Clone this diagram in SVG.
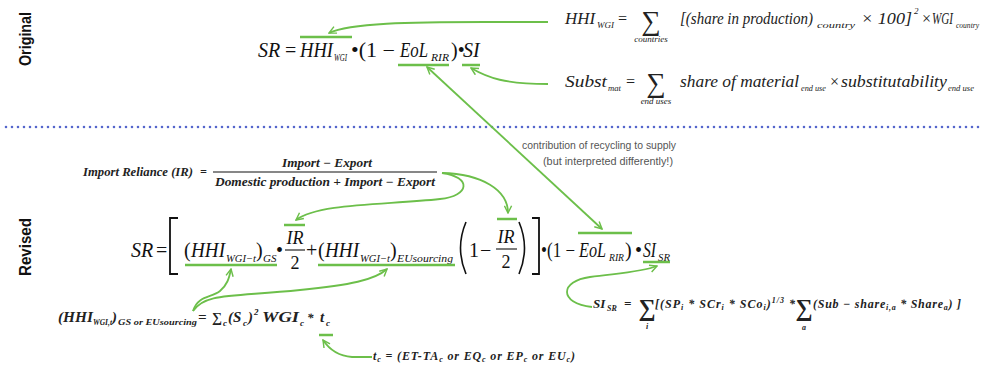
<svg xmlns="http://www.w3.org/2000/svg" width="982" height="367" viewBox="0 0 982 367">
<style>
.m{font-family:"Liberation Serif",serif;font-style:italic;font-size:20px;fill:#111}
.n{font-style:normal}
.s{font-size:11px}
.r{font-family:"Liberation Serif",serif;font-style:italic;font-size:16px;fill:#222}
.rs{font-size:9px}
.sig{font-size:27px;font-style:normal}
.bi{font-family:"Liberation Serif",serif;font-style:italic;font-weight:bold;fill:#222}
.lab{font-family:"Liberation Sans",Arial,sans-serif;font-weight:bold;font-size:17px;fill:#111}
.note{font-family:"Liberation Sans",Arial,sans-serif;font-size:10px;fill:#555}
.hl{stroke:#6cbf4a;stroke-width:2.5;fill:none}
.con{stroke:#6cbf4a;stroke-width:1.8;fill:none}
.blk{stroke:#111;fill:none}
</style>
<defs>
<marker id="ah" viewBox="0 0 10 10" refX="9" refY="5" markerWidth="9" markerHeight="9" markerUnits="userSpaceOnUse" orient="auto-start-reverse">
<path d="M1,1 L9,5 L1,9" fill="none" stroke="#6cbf4a" stroke-width="1.6"/>
</marker>
</defs>
<rect width="982" height="367" fill="#fff"/>

<g id="divider">
<line x1="6" y1="127" x2="980" y2="127" stroke="#5566cc" stroke-width="2.6" stroke-linecap="round" stroke-dasharray="0 6"/>
</g>

<g id="original-label"><text class="lab" transform="translate(31,39) rotate(-90)" text-anchor="middle" textLength="54" lengthAdjust="spacingAndGlyphs">Original</text></g>
<g id="revised-label"><text class="lab" transform="translate(31,247) rotate(-90)" text-anchor="middle" textLength="58" lengthAdjust="spacingAndGlyphs">Revised</text></g>

<g id="sr-original">
<text class="m" x="258" y="57">SR</text>
<text class="m n" x="285" y="57">=</text>
<text class="m" x="300" y="57" textLength="33" lengthAdjust="spacingAndGlyphs">HHI</text>
<text class="m s" x="334" y="61" textLength="13" lengthAdjust="spacingAndGlyphs">WGI</text>
<text class="m n" x="351" y="57" textLength="44" lengthAdjust="spacingAndGlyphs">•(1 − </text>
<text class="m" x="400" y="57" textLength="28" lengthAdjust="spacingAndGlyphs">EoL</text>
<text class="m s" x="431" y="61" textLength="18" lengthAdjust="spacingAndGlyphs">RIR</text>
<text class="m n" x="451" y="57">)•</text>
<text class="m" x="463" y="57">SI</text>
<line class="hl" x1="300" y1="37" x2="352" y2="37"/>
<line class="hl" x1="398" y1="65" x2="449" y2="65"/>
<line class="hl" x1="462" y1="65" x2="480" y2="65"/>
</g>

<g id="hhi-formula">
<text class="r" x="565" y="24" textLength="30" lengthAdjust="spacingAndGlyphs">HHI</text>
<text class="r rs" x="597" y="28">WGI</text>
<text class="r n" x="617" y="24">=</text>
<text class="r sig" x="651" y="30" text-anchor="middle">∑</text>
<text class="r rs" x="651" y="42" text-anchor="middle">countries</text>
<text class="r" x="680" y="24" textLength="133" lengthAdjust="spacingAndGlyphs">[(share in production)</text>
<text class="r rs" x="817" y="28" textLength="38" lengthAdjust="spacingAndGlyphs">country</text>
<text class="r n" x="861" y="24" textLength="51" lengthAdjust="spacingAndGlyphs">× 100]</text>
<text class="r rs n" x="914" y="14">2</text>
<text class="r n" x="921" y="24">×</text>
<text class="r" x="932" y="24" textLength="21" lengthAdjust="spacingAndGlyphs">WGI</text>
<text class="r rs" x="956" y="28" textLength="23" lengthAdjust="spacingAndGlyphs">country</text>
</g>

<g id="subst-formula">
<text class="r" x="565" y="87" textLength="42" lengthAdjust="spacingAndGlyphs">Subst</text>
<text class="r rs" x="608" y="91" textLength="13" lengthAdjust="spacingAndGlyphs">mat</text>
<text class="r n" x="625" y="87">=</text>
<text class="r sig" x="656" y="92" text-anchor="middle">∑</text>
<text class="r rs" x="656" y="104" text-anchor="middle">end uses</text>
<text class="r" x="680" y="87" textLength="119" lengthAdjust="spacingAndGlyphs">share of material</text>
<text class="r rs" x="801" y="91" textLength="25" lengthAdjust="spacingAndGlyphs">end use</text>
<text class="r n" x="829" y="87">×</text>
<text class="r" x="841" y="87" textLength="106" lengthAdjust="spacingAndGlyphs">substitutability</text>
<text class="r rs" x="948" y="91" textLength="26" lengthAdjust="spacingAndGlyphs">end use</text>
</g>

<g id="recycling-note">
<text class="note" x="522" y="149" textLength="154" lengthAdjust="spacingAndGlyphs">contribution of recycling to supply</text>
<text class="note" x="543" y="165" textLength="130" lengthAdjust="spacingAndGlyphs">(but interpreted differently!)</text>
</g>

<g id="ir-formula">
<text class="bi" x="83" y="176" font-size="12" textLength="110" lengthAdjust="spacingAndGlyphs">Import Reliance (IR)</text>
<text class="bi" x="200" y="176" font-size="12" font-style="normal">=</text>
<text class="bi" x="327" y="167" font-size="12" text-anchor="middle" textLength="90" lengthAdjust="spacingAndGlyphs">Import − Export</text>
<line class="blk" x1="213" y1="172" x2="437" y2="172" stroke-width="1.1"/>
<text class="bi" x="215" y="186" font-size="12" textLength="220" lengthAdjust="spacingAndGlyphs">Domestic production + Import − Export</text>
</g>

<g id="sr-revised">
<text class="m" x="131" y="257">SR</text>
<text class="m n" x="156" y="257">=</text>
<path class="blk" stroke-width="1.8" d="M178,218 L170,218 L170,274 L178,274"/>
<text class="m n" x="184" y="257">(</text>
<text class="m" x="191" y="257" textLength="34" lengthAdjust="spacingAndGlyphs">HHI</text>
<text class="m s" x="226" y="262" textLength="30" lengthAdjust="spacingAndGlyphs">WGI−t</text>
<text class="m n" x="256" y="257">)</text>
<text class="m s" x="263" y="262">GS</text>
<text class="m n" x="276" y="257">•</text>
<text class="m" x="295" y="244" text-anchor="middle" style="font-size:18px">IR</text>
<line class="blk" x1="285" y1="250" x2="305" y2="250" stroke-width="1.1"/>
<text class="m n" x="295" y="269" text-anchor="middle" style="font-size:18px">2</text>
<text class="m n" x="306" y="257">+</text>
<text class="m n" x="318" y="257">(</text>
<text class="m" x="325" y="257" textLength="34" lengthAdjust="spacingAndGlyphs">HHI</text>
<text class="m s" x="360" y="262" textLength="30" lengthAdjust="spacingAndGlyphs">WGI−t</text>
<text class="m n" x="390" y="257">)</text>
<text class="m s" x="397" y="262" textLength="56" lengthAdjust="spacingAndGlyphs">EUsourcing</text>
<path class="blk" stroke-width="1.6" d="M466,222 Q455,248 466,274"/>
<text class="m n" x="469" y="257">1</text>
<text class="m n" x="480" y="257">−</text>
<text class="m" x="506" y="243" text-anchor="middle" style="font-size:18px">IR</text>
<line class="blk" x1="496" y1="249" x2="517" y2="249" stroke-width="1.1"/>
<text class="m n" x="506" y="268" text-anchor="middle" style="font-size:18px">2</text>
<path class="blk" stroke-width="1.6" d="M519,222 Q530,248 519,274"/>
<path class="blk" stroke-width="1.8" d="M532,218 L539,218 L539,274 L532,274"/>
<text class="m n" x="541" y="257" textLength="34" lengthAdjust="spacingAndGlyphs">•(1 −</text>
<text class="m" x="579" y="257" textLength="27" lengthAdjust="spacingAndGlyphs">EoL</text>
<text class="m s" x="609" y="261" textLength="15" lengthAdjust="spacingAndGlyphs">RIR</text>
<text class="m n" x="625" y="257">)</text>
<text class="m n" x="635" y="257">•</text>
<text class="m" x="643" y="257" textLength="13" lengthAdjust="spacingAndGlyphs">SI</text>
<text class="m s" x="658" y="261" textLength="12" lengthAdjust="spacingAndGlyphs">SR</text>
<line class="hl" x1="185" y1="265" x2="277" y2="265"/>
<line class="hl" x1="318" y1="265" x2="455" y2="265"/>
<line class="hl" x1="284" y1="225" x2="305" y2="225"/>
<line class="hl" x1="497" y1="219" x2="517" y2="219"/>
<line class="hl" x1="578" y1="233" x2="632" y2="233"/>
<line class="hl" x1="643" y1="262" x2="670" y2="262"/>
</g>

<g id="hhi-t-formula">
<text class="bi" x="58" y="322" font-size="15" textLength="35" lengthAdjust="spacingAndGlyphs">(HHI</text>
<text class="bi" x="93" y="325" font-size="8" textLength="19" lengthAdjust="spacingAndGlyphs">WGI,t</text>
<text class="bi" x="112" y="322" font-size="15">)</text>
<text class="bi" x="118" y="325" font-size="8" textLength="79" lengthAdjust="spacingAndGlyphs">GS or EUsourcing</text>
<text class="bi" x="198" y="322" font-size="15" font-style="normal">=</text>
<text class="bi" x="212" y="322" font-size="14" font-style="normal">∑</text>
<text class="bi" x="223" y="326" font-size="9">c</text>
<text class="bi" x="228" y="322" font-size="15">(S</text>
<text class="bi" x="243" y="326" font-size="9">c</text>
<text class="bi" x="248" y="322" font-size="15">)</text>
<text class="bi" x="254" y="315" font-size="9" font-style="normal">2</text>
<text class="bi" x="262" y="322" font-size="15" textLength="37" lengthAdjust="spacingAndGlyphs">WGI</text>
<text class="bi" x="300" y="326" font-size="9">c</text>
<text class="bi" x="307" y="322" font-size="13" font-style="normal">*</text>
<text class="bi" x="320" y="322" font-size="15">t</text>
<text class="bi" x="326" y="326" font-size="9">c</text>
<line class="hl" x1="319" y1="335" x2="333" y2="335"/>
</g>

<g id="tc-formula">
<text class="bi" x="373" y="360" font-size="12" textLength="202" lengthAdjust="spacing">t<tspan font-size="8" dy="2">c</tspan><tspan dy="-2"> = (ET-TA</tspan><tspan font-size="8" dy="2">c</tspan><tspan dy="-2"> or EQ</tspan><tspan font-size="8" dy="2">c</tspan><tspan dy="-2"> or EP</tspan><tspan font-size="8" dy="2">c</tspan><tspan dy="-2"> or EU</tspan><tspan font-size="8" dy="2">c</tspan><tspan dy="-2">)</tspan></text>
</g>

<g id="si-sr-formula">
<text class="bi" x="593" y="308" font-size="13">SI</text>
<text class="bi" x="607" y="311" font-size="8">SR</text>
<text class="bi" x="624" y="308" font-size="13" font-style="normal">=</text>
<text class="bi" x="647" y="316" font-size="24" font-style="normal" font-weight="normal" text-anchor="middle">∑</text>
<text class="bi" x="647" y="329" font-size="8" text-anchor="middle">i</text>
<text class="bi" x="655" y="308" font-size="12" textLength="140" lengthAdjust="spacing">[(SP<tspan font-size="8" dy="2">i</tspan><tspan dy="-2"> * SCr</tspan><tspan font-size="8" dy="2">i</tspan><tspan dy="-2"> * SCo</tspan><tspan font-size="8" dy="2">i</tspan><tspan dy="-2">)</tspan><tspan font-size="8" dy="-5">1/3</tspan><tspan dy="5"> *</tspan></text>
<text class="bi" x="804" y="316" font-size="24" font-style="normal" font-weight="normal" text-anchor="middle">∑</text>
<text class="bi" x="804" y="330" font-size="8" text-anchor="middle">a</text>
<text class="bi" x="813" y="308" font-size="12" textLength="148" lengthAdjust="spacing">(Sub − share<tspan font-size="8" dy="2">i,a</tspan><tspan dy="-2"> * Share</tspan><tspan font-size="8" dy="2">a</tspan><tspan dy="-2">) ]</tspan></text>
</g>

<g id="connectors">
<path class="con" marker-end="url(#ah)" d="M548,22 L485,22 C410,22 350,23 329,33"/>
<path class="con" marker-end="url(#ah)" d="M548,84 C505,84 488,78 471,68"/>
<path class="con" marker-start="url(#ah)" marker-end="url(#ah)" d="M427,67 L602,229"/>
<path class="con" marker-end="url(#ah)" d="M442,173 C472,177 470,196 440,199 C385,205 318,203 296,220"/>
<path class="con" marker-end="url(#ah)" d="M442,173 C482,174 508,190 508,213"/>
<path class="con" marker-end="url(#ah)" d="M193,311 C198,295 212,298 220,291 C227,285 229,279 231,269"/>
<path class="con" marker-end="url(#ah)" d="M193,311 C205,293 230,297 300,290 C350,285 375,280 387,269"/>
<path class="con" marker-end="url(#ah)" d="M372,357 L352,357 C338,356 329,349 323,340"/>
<path class="con" marker-end="url(#ah)" d="M592,307 C558,303 560,281 590,277 C620,273 642,272 657,266"/>
</g>
</svg>
